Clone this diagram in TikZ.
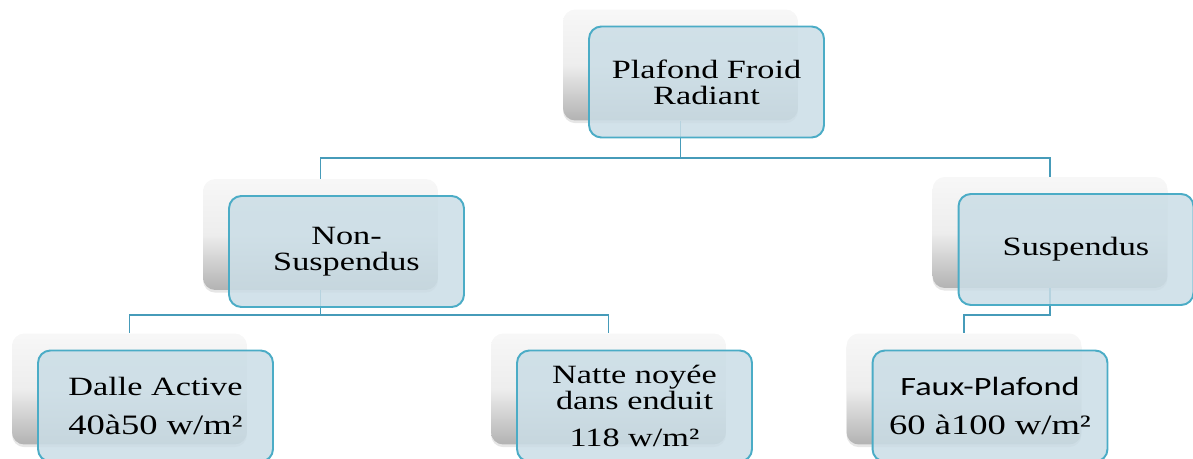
\documentclass[tikz,border=0pt]{standalone}
\usepackage{fontspec}
\setmainfont{Liberation Serif}[FakeStretch=1.3]
\newfontfamily\fauxfont{Carlito}[FakeStretch=1.3]
\usetikzlibrary{shadows}
\definecolor{boxline}{RGB}{75,172,198}
\definecolor{boxfill}{RGB}{202,221,230}
\definecolor{linkline}{RGB}{70,155,185}
\newcommand{\valsize}{\fontsize{16}{16}\selectfont}

\begin{document}
\begin{tikzpicture}[x=0.02cm,y=-0.02cm,
    backbox/.style={rectangle,rounded corners=7pt,minimum width=4.7cm,minimum height=2.22cm,inner sep=0pt,
        top color=white!97!black,bottom color=black!30,middle color=white!93!black,
        drop shadow={opacity=0.2,shadow xshift=0pt,shadow yshift=-1.5pt}},
    frontbox/.style={rectangle,rounded corners=7pt,minimum width=4.7cm,minimum height=2.22cm,inner sep=0pt,
        draw=boxline,line width=1.1pt,fill=boxfill,fill opacity=0.85,text opacity=1,
        align=center,font=\fontsize{15}{14.7}\selectfont},
    link/.style={draw=linkline,line width=1.1pt}]
    \useasboundingbox (0,0) rectangle (1193,459);
    \clip (0,0) rectangle (1193,459);
    \foreach \n/\x/\y in {top/680.5/65,ns/320.5/234.5,su/1050/232.5,da/129.5/389,na/608.5/389,fa/964/389}{
        \node[backbox] (\n back) at (\x,\y) {};
    }
    \coordinate (busone) at (0,158);
    \coordinate (bustwo) at (0,315);
    \draw[link] (topback.south) -- (topback.south |- busone) -| (nsback.north);
    \draw[link] (topback.south |- busone) -| (suback.north);
    \draw[link] (nsback.south) -- (nsback.south |- bustwo) -| (daback.north);
    \draw[link] (nsback.south |- bustwo) -| (naback.north);
    \draw[link] (suback.south) |- (faback.north |- bustwo) -- (faback.north);
    \node[frontbox] (top) at ([shift={(26,17)}]topback.center) {Plafond Froid\\Radiant};
    \node[frontbox] (ns) at ([shift={(26,17)}]nsback.center) {Non-\\Suspendus};
    \node[frontbox] (su) at ([shift={(26,17)}]suback.center) {Suspendus};
    \node[frontbox] (da) at ([shift={(26,17)}]daback.center) {Dalle Active\\[7pt]{\valsize 40à50 w/m²}};
    \node[frontbox] (na) at ([shift={(26,17)}]naback.center) {Natte noyée\\dans enduit\\[6pt]118 w/m²};
    \node[frontbox] (fa) at ([shift={(26,17)}]faback.center) {{\fauxfont Faux-Plafond}\\[7pt]{\valsize 60 à100 w/m²}};
\end{tikzpicture}
\end{document}
